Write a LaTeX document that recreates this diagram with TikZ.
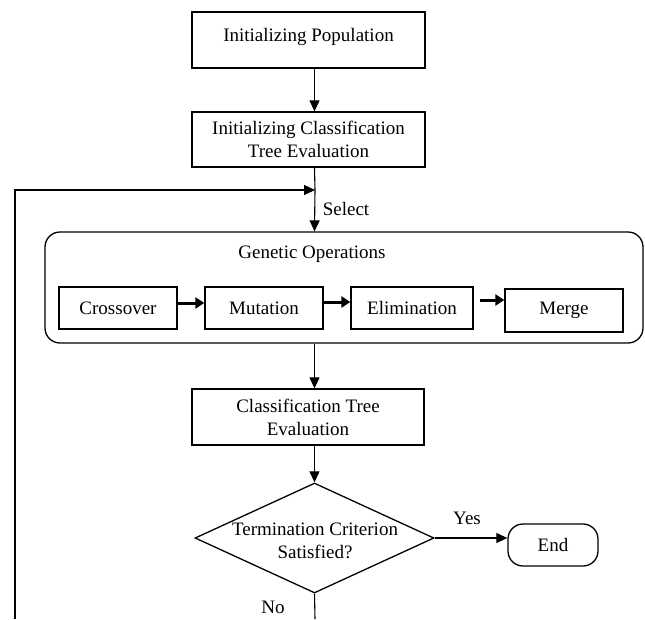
\documentclass[tikz,border=0pt]{standalone}
\usepackage{fontspec}
\setmainfont{Liberation Serif}
\usepackage{tikz}
\usetikzlibrary{shapes.geometric,arrows.meta,positioning}

\begin{document}
\begin{tikzpicture}[
  x=1pt, y=-1pt,
  every node/.style={font=\fontsize{19}{23}\selectfont},
  stepbox/.style={rectangle, draw=black, line width=1.3pt, minimum width=233pt,
                  minimum height=56pt, align=center, inner sep=2pt},
  opbox/.style={rectangle, draw=black, line width=1.3pt, minimum height=42pt,
                align=center, inner sep=2pt},
  opframe/.style={rectangle, draw=black, line width=1.3pt, rounded corners=15pt,
                  minimum width=598pt, minimum height=111pt},
  decbox/.style={diamond, draw=black, line width=1.3pt, inner sep=0pt,
                 minimum width=239pt, minimum height=110pt},
  endbox/.style={rectangle, draw=black, line width=1.3pt, rounded corners=15pt,
                 minimum width=90pt, minimum height=42pt},
  fwd/.style={-{Triangle[length=11pt, width=10pt]}, line width=1.1pt},
  plain/.style={line width=1.1pt},
  thickfwd/.style={-{Triangle[length=9pt, width=11pt]}, line width=3pt},
  lbl/.style={inner sep=0pt}
]
\useasboundingbox (0,0) rectangle (645,619);

%--- Initial steps ---
\node[stepbox, text depth=11pt] (initpop) at (308.5,40) {Initializing Population};
\node[stepbox, minimum height=55pt] (inittree) at (308.5,139.5)
  {Initializing Classification\\Tree Evaluation};

%--- Genetic operations ---
\node[opframe] (ops) at (344,287.5) {};
\node[lbl] (opstitle) at (312,254) {Genetic Operations};
\node[opbox, minimum width=118pt] (cross) at (118,308) {Crossover};
\node[opbox, minimum width=118pt] (mut)   at (264,308) {Mutation};
\node[opbox, minimum width=122pt] (elim)  at (412,308) {Elimination};
\node[opbox, minimum width=118pt, minimum height=43pt] (merge) at (564,310.5) {Merge};

%--- Evaluation and test ---
\node[stepbox, minimum width=232pt] (evaltree) at (308,417)
  {Classification Tree\\Evaluation};
\node[decbox] (crit) at (314.5,538) {};
\node[lbl, align=center] (crittext) at (315,540.5) {Termination Criterion\\Satisfied?};
\node[endbox] (endn) at (553,545) {End};

%--- Loop ends ---
\coordinate (loopin)  at (315,190);
\coordinate (loopbot) at (15,619);
\coordinate (nobot)   at (315,619);

%--- Connectors ---
\draw[fwd] (initpop.south -| crit.north) -- (inittree.north -| crit.north);
\draw[plain] (inittree.south -| crit.north) -- (loopin);
\draw[fwd] (loopin) -- (ops.north -| crit.north);
\node[lbl] (select) at (346,209) {Select};
\draw[fwd] (loopbot) |- (loopin);

\draw[thickfwd] ([yshift=5pt]cross.east) -- ([yshift=5pt]cross.east -| mut.west);
\draw[thickfwd] ([yshift=6pt]mut.east) -- ([yshift=6pt]mut.east -| elim.west);
\draw[thickfwd] ([xshift=6pt, yshift=8pt]elim.east) -- ([yshift=8pt]elim.east -| merge.west);

\draw[fwd] (ops.south -| crit.north) -- (evaltree.north -| crit.north);
\draw[fwd] (evaltree.south -| crit.north) -- (crit.north);
\draw[fwd] (crit.east) -- (crit.east -| endn.west);
\node[lbl] (yes) at (467,518) {Yes};
\draw[plain] (crit.south) -- (nobot);
\node[lbl] (no) at (273,607) {No};

\end{tikzpicture}
\end{document}
